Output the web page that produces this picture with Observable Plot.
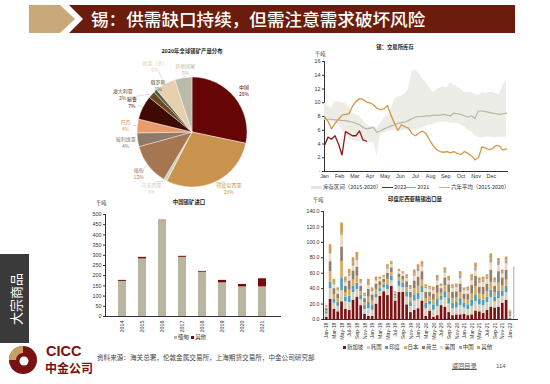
<!DOCTYPE html>
<html><head><meta charset="utf-8">
<script src="https://cdn.jsdelivr.net/npm/d3@7"></script>
<script src="https://cdn.jsdelivr.net/npm/@observablehq/plot@0.6"></script>
<style>
body{margin:0;background:#fff;}
#root{position:relative;width:550px;height:384px;overflow:hidden;font-family:"Noto Sans CJK SC","Liberation Sans",sans-serif;background:#fff;color:#333}
.t{position:absolute;white-space:nowrap;line-height:1}
.sw{display:inline-block;vertical-align:middle}
</style></head><body><div id="root"></div><script>
// ---------------- DATA ----------------
const pieTitle = "2020年全球锡矿产量分布";
const pieNames = ["中国","印度尼西亚","马来西亚","缅甸","玻利维亚","巴西","秘鲁","澳大利亚","俄罗斯","刚果（金）","其他国家"];
const pieShares = [28,29,1,12,4,4,7,2,1,6,5];

const stockTitle = "锡：交易所库存";
const monthNames = ["Jan","Feb","Mar","Apr","May","Jun","Jul","Aug","Sep","Oct","Nov","Dec"];
const bandLower = [7.5,7.4,7.2,7.0,6.8,6.0,5.3,4.8,4.5,4.4,
  4.3,4.3,4.2,4.2,4.3,2.2,5.5,5.6,5.8,5.9,
  6.0,5.8,5.9,6.0,6.0,6.0,6.0,6.2,6.4,6.6,
  6.8,6.8,7.0,7.2,7.2,7.2,7.0,7.0,7.0,6.8,
  6.5,6.0,5.8,5.2,5.0,4.9,5.0,5.0,5.0,4.9,
  5.0,5.0,5.0];
const bandUpper = [10.0,9.6,9.2,10.2,10.1,10.0,9.9,9.5,8.5,8.3,
  8.0,7.5,6.8,6.5,6.6,6.3,7.0,7.8,8.0,9.0,
  10.5,10.8,11.0,11.3,12.0,14.5,14.8,14.3,13.5,13.0,
  12.2,11.5,11.8,12.2,12.3,12.2,12.9,12.6,12.3,12.0,
  11.5,11.5,11.5,11.2,11.0,11.5,11.4,11.5,11.5,11.3,
  11.2,12.5,13.2];
const avg6 = [7.7,7.6,7.6,7.5,7.5,7.4,7.4,7.3,7.2,7.0,
  6.8,6.4,6.2,6.3,6.4,5.7,5.9,6.2,6.4,6.6,
  6.8,7.0,7.1,7.2,7.4,7.7,7.9,8.0,8.0,8.1,
  8.1,8.2,8.2,8.2,8.3,8.2,8.1,8.5,8.4,8.3,
  8.1,7.9,8.1,7.7,8.8,8.8,8.7,8.6,8.5,8.4,
  8.3,8.4,8.5];
const stock2021 = [8.0,7.3,6.2,7.0,7.6,8.2,8.3,8.4,9.5,10.2,
  10.6,10.5,10.1,10.0,9.7,9.2,9.0,9.1,9.6,8.2,
  7.0,6.0,6.8,6.5,6.3,5.5,5.2,5.6,5.9,5.5,
  4.6,3.8,3.2,2.9,2.8,2.9,2.7,2.9,2.6,2.5,
  2.9,2.6,2.3,1.7,2.0,3.6,3.4,3.2,3.3,3.8,
  3.7,3.1,3.3];
const stock2022 = [3.8,5.0,4.7,5.2,4.0,2.4,5.8,5.5,5.2,5.2,5.9,4.6,4.4];

const importTitle = "中国锡矿进口";
const importYears = ["2014","2015","2016","2017","2018","2019","2020","2021"];
const importMyanmar = [172,282,470,290,217,165,145,145];
const importOther = [5,8,2,5,4,12,12,40];

const exportTitle = "印度尼西亚精锡出口量";
const exportDest = ["新加坡","韩国","印度","日本","荷兰","美国","中国","其他"];
const exportMonths = [];
["18","19","20","21","22"].forEach(y => monthNames.forEach(m => exportMonths.push(m + "-" + y)));
exportMonths.length = 49;
const expSG = [3,26,13,10,23,13,12,25,29,18, 7,4,4,20,30,36,31,43,24,35, 35,19,9,12,14,24,4,11,3,5, 18,16,9,5,6,6,7,5,6,11, 10,8,12,16,15,16,21,25,1];
const expKR = [4,14,8,7,14,10,10,10,10,8, 6,10,8,8,6,5,8,7,3,8, 6,10,8,12,12,11,10,8,9,12, 7,12,11,9,9,12,8,8,11,12, 9,10,10,12,8,11,9,10,3];
const expIN = [2,8,5,5,17,6,8,8,8,5, 5,8,6,5,4,4,6,6,2,7, 6,6,5,8,8,8,7,5,7,9, 5,8,8,7,7,9,6,6,8,9, 7,7,7,10,6,10,7,8,2];
const expJP = [2,14,6,5,21,6,8,8,9,5, 4,7,6,6,4,3,7,5,2,4, 4,6,6,8,9,8,6,5,6,8, 4,8,7,6,6,8,5,6,8,10, 7,7,7,10,6,10,7,8,2];
const expNL = [3,13,8,6,19,8,12,12,12,7, 5,10,8,7,5,4,8,6,2,5, 5,8,7,10,12,11,8,6,8,10, 6,10,10,8,8,11,7,8,11,14, 9,10,10,16,8,15,10,13,2];
const expUS = [2,10,5,4,15,5,6,6,8,4, 3,5,4,4,3,2,5,4,1,3, 3,4,4,6,7,6,5,4,4,6, 3,6,5,5,5,7,4,4,6,7, 5,6,6,9,5,8,5,8,1];
const expCN = [1,2,2,1,2,2,3,4,4,2, 2,4,3,2,1,1,3,2,1,1, 1,2,2,3,4,3,2,2,2,3, 1,3,3,2,2,5,2,2,4,4, 3,3,3,5,2,4,2,4,0];
const expOT = [1,10,5,3,14,5,6,7,7,3, 2,4,2,3,2,2,3,2,1,2, 2,3,3,5,5,4,3,2,3,4, 2,4,3,3,3,4,2,3,4,6, 4,4,3,7,4,5,3,5,1];
const exportExtra = 68;

// ---------------- STYLES ----------------
const pieColors = ["#650505","#C9934E","#CDD0BE","#A57650","#8E7A69","#E99B6A","#3E0A02","#6C4723","#4D5B3E","#E7CFB0","#BCBAA8"];
const pieNudge = {"印度尼西亚":{a:-8,r:0},"马来西亚":{a:7,r:2},"澳大利亚":{a:-14,r:12},"俄罗斯":{a:6,r:-9},"刚果（金）":{a:0,r:9},"其他国家":{a:3,r:-4}};
const expColors = ["#7D1214","#D3CFBC","#4E9EBD","#D8AA5E","#8F7E6D","#EFD9BD","#A4A4A4","#D49A4D"];
const CJK = '"Noto Sans CJK SC", sans-serif';
const LAT = '"Liberation Sans", Arial, sans-serif';

const root = document.getElementById("root");
function txt(s, x, y, st = {}) {
  const d = document.createElement("div");
  d.className = "t"; d.textContent = s;
  d.style.left = x + "px"; d.style.top = y + "px";
  Object.assign(d.style, st);
  root.appendChild(d); return d;
}
function place(node, x, y) {
  node.style.position = "absolute"; node.style.left = x + "px"; node.style.top = y + "px";
  root.appendChild(node);
}
function html(s, x, y, st = {}) {
  const d = document.createElement("div");
  d.className = "t"; d.innerHTML = s; d.style.left = x + "px"; d.style.top = y + "px";
  Object.assign(d.style, st);
  root.appendChild(d); return d;
}
const svgBox = {fontSize: "0px", lineHeight: "0"};
const legBox = {fontSize: "5.4px", fontFamily: CJK, color: "#333", lineHeight: "1"};

// ---------------- HEADER ----------------
html(`<svg width="550" height="40" style="display:block"><polygon points="29,5 60,5 75,19 60,33 29,33" fill="#C9A87A"/><polygon points="69,5 515,5 515,33 69,33 83,19" fill="#6C1C0C"/></svg>`, 0, 0, svgBox);
txt("锡：供需缺口持续，但需注意需求破坏风险", 91, 9.5, {color:"#fff", fontSize:"17.6px", fontFamily:CJK, fontWeight:"500"});

// side tab
const tab = document.createElement("div");
Object.assign(tab.style, {position:"absolute", left:"0px", top:"254px", width:"29px", height:"89px", background:"#3A3A3A"});
root.appendChild(tab);
txt("大宗商品", 14.5, 298.5, {color:"#fff", fontSize:"13px", fontFamily:CJK, transform:"translate(-50%,-50%) rotate(-90deg)"});

// logo
html(`<svg width="40" height="36" style="display:block"><circle cx="18" cy="18" r="14" fill="#7A1113"/><path d="M18,4 A14,14 0 0 0 4,18 L11,18 A7,7 0 0 1 18,11 Z" fill="#C9A063"/><circle cx="19" cy="19" r="4.5" fill="#fff"/></svg>`, 5, 342, svgBox);
txt("CICC", 46, 344, {color:"#7A1113", fontSize:"14.5px", fontFamily:LAT, fontWeight:"bold"});
txt("中金公司", 45, 361.5, {color:"#7A1113", fontSize:"12px", fontFamily:CJK, fontWeight:"bold"});
txt("资料来源：海关总署，伦敦金属交易所，上海期货交易所，中金公司研究部", 97, 354, {fontSize:"6.6px", fontFamily:CJK, color:"#444"});
txt("返回目录", 452, 363, {fontSize:"6.2px", fontFamily:CJK, color:"#555", textDecoration:"underline"});
txt("114", 496, 363, {fontSize:"6px", fontFamily:LAT, color:"#555"});

// ---------------- PIE ----------------
txt(pieTitle, 192, 52, {fontSize:"5.4px", fontFamily:CJK, fontWeight:"bold", transform:"translate(-50%,-50%)", color:"#222"});
const pieChart = Plot.plot({
  width: 180, height: 150, margin: 0,
  style: {background: "transparent"},
  marks: [
    (index, scales, values, dims) => {
      const cx = dims.width / 2, cy = dims.height / 2, r = 55;
      const g = d3.create("svg:g").attr("transform", `translate(${cx},${cy})`);
      const arcs = d3.pie().sort(null).value(d => d)(pieShares);
      const arc = d3.arc().innerRadius(0).outerRadius(r);
      g.selectAll("path.s").data(arcs).join("path")
        .attr("d", arc).attr("fill", (d, i) => pieColors[i])
        .attr("stroke", "#fff").attr("stroke-width", 0.4);
      arcs.forEach((d, i) => {
        const name = pieNames[i];
        const nz = pieNudge[name] || {a: 0, r: 0};
        const mid = (d.startAngle + d.endAngle) / 2;
        const a = mid + nz.a * Math.PI / 180;
        const R = 67 + nz.r;
        const lx = Math.sin(a) * R, ly = -Math.cos(a) * R;
        g.append("line")
          .attr("x1", Math.sin(mid) * (r + 1)).attr("y1", -Math.cos(mid) * (r + 1))
          .attr("x2", Math.sin(a) * (R - 7)).attr("y2", -Math.cos(a) * (R - 7))
          .attr("stroke", "#aaa").attr("stroke-width", 0.4);
        const col = pieColors[i];
        const t = g.append("text").attr("text-anchor", "middle")
          .attr("font-size", 5).attr("font-family", CJK).attr("fill", col);
        t.append("tspan").attr("x", lx).attr("y", ly - 1).text(name);
        t.append("tspan").attr("x", lx).attr("y", ly + 6).text(pieShares[i] + "%");
      });
      return g.node();
    }
  ]
});
place(pieChart, 102, 57);

// ---------------- STOCK LINES ----------------
txt(stockTitle, 395, 48, {fontSize:"5.4px", fontFamily:CJK, fontWeight:"bold", transform:"translate(-50%,-50%)", color:"#222"});
txt("千吨", 315, 50.5, {fontSize:"5.2px", fontFamily:CJK});
const wk = (arr) => arr.map((v, i) => ({w: i, v}));
const bandData = bandUpper.map((hi, i) => ({w: i, lo: bandLower[i], hi}));
const monthTicks = monthNames.map((m, i) => i * 52 / 12);
const stockChart = Plot.plot({
  width: 235, height: 130,
  marginLeft: 44, marginRight: 8, marginTop: 6, marginBottom: 14,
  style: {fontSize: "5.4px", fontFamily: LAT, color: "#333", background: "transparent"},
  x: {domain: [0, 52.3], ticks: monthTicks, tickFormat: d => monthNames[Math.round(d * 12 / 52)], tickSize: 0, tickPadding: 3, line: true, label: null},
  y: {domain: [0, 16], ticks: d3.range(0, 17, 2), tickFormat: d => d === 0 ? "-" : d, tickSize: 2, tickPadding: 2, line: true, label: null},
  marks: [
    Plot.areaY(bandData, {x: "w", y1: "lo", y2: "hi", fill: "#EDEDE8"}),
    Plot.line(wk(avg6), {x: "w", y: "v", stroke: "#B8B7A2", strokeWidth: 1.2}),
    Plot.line(wk(stock2021), {x: "w", y: "v", stroke: "#D3984B", strokeWidth: 1.3}),
    Plot.line(wk(stock2022), {x: "w", y: "v", stroke: "#8B1A1A", strokeWidth: 1.3})
  ]
});
place(stockChart, 280, 55);
const lg = (c, h) => `<span class="sw" style="width:11px;height:${h}px;background:${c}"></span>`;
html(`${lg("#E6E6E0",3)} 库存区间（2015-2020）`, 311, 185, legBox);
html(`${lg("#8B1A1A",1.3)} 2022`, 382, 185, legBox);
html(`${lg("#D3984B",1.3)} 2021`, 405, 185, legBox);
html(`${lg("#B8B7A2",1.3)} 六年平均（2015-2020）`, 439, 185, legBox);

// ---------------- CHINA IMPORTS ----------------
txt(importTitle, 189, 203, {fontSize:"5.4px", fontFamily:CJK, fontWeight:"bold", transform:"translate(-50%,-50%)", color:"#222"});
txt("千吨", 96, 200, {fontSize:"5.2px", fontFamily:CJK});
const importData = [];
importYears.forEach((y, i) => {
  importData.push({year: y, src: "缅甸", v: importMyanmar[i]});
  importData.push({year: y, src: "其他", v: importOther[i]});
});
const importChart = Plot.plot({
  width: 195, height: 132,
  marginLeft: 15, marginRight: 5, marginTop: 6, marginBottom: 24,
  style: {fontSize: "5.4px", fontFamily: LAT, color: "#333", background: "transparent"},
  x: {domain: importYears, padding: 0.58, tickRotate: -90, tickSize: 0, tickPadding: 4, line: true, label: null},
  y: {domain: [0, 500], ticks: d3.range(0, 501, 50), tickSize: 2, tickPadding: 2, line: true, label: null},
  color: {domain: ["缅甸", "其他"], range: ["#B8B6A0", "#7B0B0B"]},
  marks: [
    Plot.barY(importData, {x: "year", y: "v", fill: "src"})
  ]
});
place(importChart, 90, 208);
const sq = c => `<span class="sw" style="width:3px;height:3px;background:${c};margin-right:1px"></span>`;
html(`${sq("#B8B6A0")}缅甸 &nbsp;${sq("#7B0B0B")}其他`, 174, 334.5, legBox);

// ---------------- INDONESIA EXPORTS ----------------
txt(exportTitle, 415, 200, {fontSize:"5.4px", fontFamily:CJK, fontWeight:"bold", transform:"translate(-50%,-50%)", color:"#222"});
txt("千吨", 313, 197, {fontSize:"5.2px", fontFamily:CJK});
const expSeries = [expSG, expKR, expIN, expJP, expNL, expUS, expCN, expOT];
const exportData = [];
exportMonths.forEach((m, i) => {
  exportDest.forEach((d, k) => exportData.push({month: m, dest: d, v: expSeries[k][i]}));
});
const xDomain = [...exportMonths, "extra"];
const exportChart = Plot.plot({
  width: 235, height: 145,
  marginLeft: 38, marginRight: 3, marginTop: 6, marginBottom: 31,
  style: {fontSize: "5.2px", fontFamily: LAT, color: "#333", background: "transparent"},
  x: {domain: xDomain, padding: 0.3, paddingOuter: 0.5, ticks: exportMonths.filter((d, i) => i % 2 === 0), tickRotate: -90, tickSize: 0, tickPadding: 3, line: true, label: null},
  y: {domain: [0, 140], ticks: d3.range(0, 141, 20), tickFormat: d => d.toFixed(1), tickSize: 2, tickPadding: 2, line: true, label: null},
  color: {domain: exportDest, range: expColors},
  marks: [
    Plot.barY(exportData, {x: "month", y: "v", fill: "dest"}),
    Plot.barY([{month: "extra", v: exportExtra}], {x: "month", y: "v", fill: "#BDBDBD", insetLeft: 0.7, insetRight: 0.7})
  ]
});
place(exportChart, 285, 205);
html(exportDest.map((d, k) => `${sq(expColors[k])}${d}`).join(" &nbsp;&nbsp;"), 343, 344.5, legBox);
</script></body></html>
